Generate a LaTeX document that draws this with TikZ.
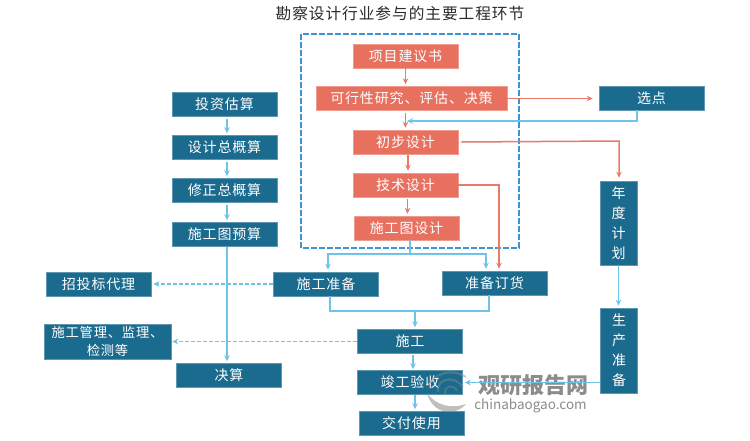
\documentclass[tikz,border=0pt]{standalone}
\usepackage{fontspec}
\setmainfont{Noto Sans CJK SC}[LetterSpace=6]
\newfontfamily\markfont{Noto Sans CJK SC}
\usepackage{tikz}
\usetikzlibrary{arrows.meta}
\definecolor{boxblue}{HTML}{1B6B8F}
\definecolor{boxred}{HTML}{E8705F}
\definecolor{lineblue}{HTML}{6FC3E8}
\definecolor{linered}{HTML}{E9796A}
\definecolor{frameblue}{HTML}{3F93CF}
\definecolor{titlegray}{HTML}{2B2B2B}
\definecolor{markgray}{HTML}{8C8C8C}
\tikzset{
	>={Stealth[length=6pt,width=5.5pt]},
	bluebox/.style={fill=boxblue,draw=boxblue!70!white,line width=0.5pt,text=white,minimum width=105pt,minimum height=24pt,inner sep=0pt,align=center,font=\fontsize{14}{17}\selectfont},
	redbox/.style={fill=boxred,draw=boxred!70!white,line width=0.5pt,text=white,minimum width=105pt,minimum height=24pt,inner sep=0pt,align=center,font=\fontsize{14}{17}\selectfont},
	bluestep/.style={lineblue,line width=1.5pt,->},
	redstep/.style={linered,line width=1.5pt,->},
	bluedash/.style={lineblue,line width=1.3pt,dash pattern=on 4pt off 2pt,->},
}

\begin{document}
\begin{tikzpicture}[x=1pt,y=-1pt]
	\useasboundingbox (0,0) rectangle (750,440);
	\fill[white] (0,0) rectangle (750,440);
	\node[text=titlegray,font=\fontsize{15.7}{20}\selectfont] (title) at (400,14) {勘察设计行业参与的主要工程环节};
	\draw[frameblue,line width=1.5pt,dash pattern=on 6pt off 2pt] (301,34) rectangle (519,248);

	\node[redbox] (proj) at (405.5,56) {项目建议书};
	\node[redbox,minimum width=191pt] (feas) at (411.5,98.5) {可行性研究、评估、决策};
	\node[redbox] (init) at (405.5,142) {初步设计};
	\node[redbox] (tech) at (405.5,185) {技术设计};
	\node[redbox] (cons) at (406.5,228) {施工图设计};

	\node[bluebox] (site) at (651.5,98) {选点};
	\node[bluebox,minimum width=37pt,minimum height=84pt,font=\fontsize{14}{20}\selectfont] (year) at (618.5,223) {年\\度\\计\\划};
	\node[bluebox,minimum width=37pt,minimum height=85pt,font=\fontsize{14}{20}\selectfont] (make) at (619,350.5) {生\\产\\准\\备};

	\node[bluebox] (esti) at (224.5,104.5) {投资估算};
	\node[bluebox] (gene) at (224.5,147.5) {设计总概算};
	\node[bluebox] (revi) at (224.5,190.5) {修正总概算};
	\node[bluebox] (budg) at (224.5,234.5) {施工图预算};
	\node[bluebox] (fina) at (229,375.5) {决算};
	\node[bluebox] (bids) at (98.5,284) {招投标代理};
	\node[bluebox,minimum width=127pt,minimum height=35pt,font=\fontsize{13.3}{17.5}\selectfont] (supe) at (107.5,341.5) {施工管理、监理、\\检测等};

	\node[bluebox] (prep) at (326,284) {施工准备};
	\node[bluebox] (orde) at (494.5,283) {准备订货};
	\node[bluebox] (buil) at (410,341.5) {施工};
	\node[bluebox] (chec) at (410,382.5) {竣工验收};
	\node[bluebox] (deli) at (411.5,423.5) {交付使用};

	\fill[markgray,opacity=0.55] (427,393) .. controls (432,414) and (455,417) .. (466,404) .. controls (452,409) and (436,406) .. (427,393) -- cycle;
	\draw[markgray,opacity=0.45,line width=2pt] (438,392) .. controls (436,378) and (455,375) .. (463,387);
	\draw[markgray,opacity=0.45,line width=1.5pt] (445,394) .. controls (444,385) and (454,384) .. (457,391);
	\draw[markgray,opacity=0.45,line width=2pt] (428,386) .. controls (435,371) and (455,369) .. (466,377);
	\node[text=markgray,font=\markfont\fontsize{22}{24}\bfseries\selectfont] (mark) at (533,385) {观研报告网};
	\node[text=markgray,font=\markfont\fontsize{13.5}{16}\selectfont] (web) at (530.5,406) {chinabaogao.com};

	\draw[redstep,shorten >=2pt] (proj.south) -- (proj.south |- feas.north);
	\draw[redstep,shorten <=2pt,shorten >=2pt] (init.north |- feas.south) -- (init.north);
	\draw[redstep,shorten <=1pt,shorten >=2pt] ([xshift=2.5pt]init.south) -- ([xshift=2.5pt]tech.north);
	\draw[redstep,shorten <=2pt,shorten >=2pt] ([xshift=2pt]tech.south) -- ([xshift=2pt]tech.south |- cons.north);
	\draw[redstep,shorten >=6pt] (feas.east) -- (feas.east -| site.west);
	\coordinate (turnA) at (619,141);
	\draw[redstep,shorten >=3pt] ([xshift=3pt]init.east) -- (turnA) -- (turnA |- year.north);
	\coordinate (turnB) at (499,185);
	\draw[redstep,shorten >=2pt] (tech.east) -- (turnB) -- (turnB |- orde.north);

	\coordinate (turnC) at (637,121);
	\coordinate (backA) at (407,121);
	\draw[bluestep] (turnC |- site.south) -- (turnC) -- (backA);

	\coordinate (splitA) at (410,254);
	\coordinate (splitB) at (328,254);
	\coordinate (splitC) at (486,254);
	\draw[bluestep,shorten >=2pt] (splitA |- cons.south) -- (splitA) -- (splitB) -- (splitB |- prep.north);
	\draw[bluestep,shorten >=2pt] (splitA) -- (splitC) -- (splitC |- orde.north);

	\coordinate (joinA) at (330,311);
	\coordinate (joinB) at (489,311);
	\coordinate (joinC) at (415,311);
	\draw[lineblue,line width=1.5pt] (joinA |- prep.south) -- (joinA) -- (joinB) -- (joinB |- orde.south);
	\draw[bluestep,shorten >=2pt] (joinC) -- (joinC |- buil.north);
	\draw[bluestep,shorten <=1pt,shorten >=1pt] ([xshift=3pt]buil.south) -- ([xshift=3pt]chec.north);
	\draw[bluestep,shorten >=2pt] ([xshift=5pt]chec.south) -- ([xshift=5pt]chec.south |- deli.north);
	\draw[bluestep,shorten >=2pt] (make.west |- chec.east) -- (chec.east);
	\draw[bluestep,shorten >=2pt] (year.south) -- (year.south |- make.north);

	\draw[bluestep,shorten <=2pt,shorten >=2pt] ([xshift=2.5pt]esti.south) -- ([xshift=2.5pt]gene.north);
	\draw[bluestep,shorten <=2pt,shorten >=2pt] ([xshift=2.5pt]gene.south) -- ([xshift=2.5pt]revi.north);
	\draw[bluestep,shorten <=2pt,shorten >=2pt] ([xshift=2.5pt]revi.south) -- ([xshift=2.5pt]budg.north);
	\draw[bluestep,shorten >=2pt] ([xshift=2.5pt]budg.south) -- ([xshift=2.5pt]budg.south |- fina.north);

	\draw[bluedash,shorten >=2pt] (prep.west) -- (bids.east);
	\draw[bluedash,shorten >=1pt] (buil.west) -- (buil.west -| supe.east);
\end{tikzpicture}
\end{document}
